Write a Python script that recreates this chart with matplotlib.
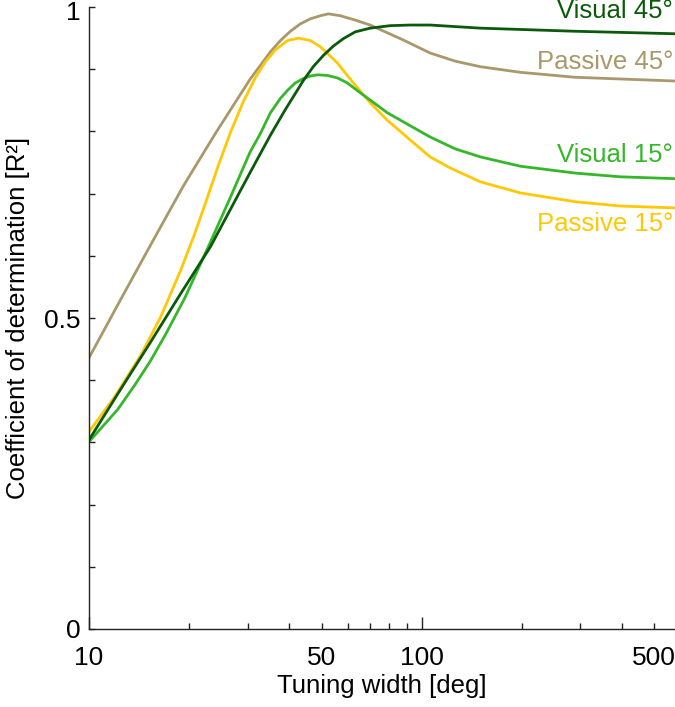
import matplotlib
matplotlib.use("Agg")
import matplotlib.pyplot as plt
from matplotlib.ticker import FixedLocator, NullFormatter
from matplotlib.transforms import ScaledTranslation

plt.rcParams['font.family'] = ['Liberation Sans', 'DejaVu Sans']

# Passive 45°
p45_x = [10, 12.4, 15.3, 19.2, 24.0, 30.5, 35.1, 37.6, 40.3, 43.2, 46.3, 49.6, 52.4, 56.9,
         63.1, 70.0, 77.7, 88.0, 106, 126, 150, 198, 289, 577]
p45_y = [0.436, 0.528, 0.617, 0.712, 0.797, 0.884, 0.928, 0.946, 0.961, 0.973, 0.981, 0.986, 0.989, 0.986,
         0.979, 0.971, 0.960, 0.947, 0.926, 0.913, 0.904, 0.895, 0.887, 0.881]

# Passive 15°
p15_x = [10, 12.0, 14.3, 16.4, 18.8, 20.6, 22.4, 24.5, 26.6, 29.1, 31.6, 33.9, 36.3, 39.5, 42.6,
         46.3, 49.6, 55.8, 58.9, 62.3, 70.0, 78.8, 92.4, 106, 122, 150, 198, 289, 395, 577]
p15_y = [0.317, 0.375, 0.440, 0.501, 0.575, 0.630, 0.685, 0.746, 0.798, 0.848, 0.886, 0.912, 0.931, 0.946, 0.950,
         0.946, 0.936, 0.910, 0.894, 0.878, 0.846, 0.818, 0.786, 0.759, 0.741, 0.719, 0.701, 0.687, 0.680, 0.677]

# Visual 15°
v15_x = [10, 12.2, 13.8, 15.3, 17.0, 19.4, 22.9, 26.6, 30.5, 32.7, 35.1, 37.6, 39.5, 41.7, 44.1,
         46.3, 48.6, 52.0, 55.8, 59.7, 65.4, 78.8, 92.4, 106, 126, 150, 198, 289, 395, 577]
v15_y = [0.301, 0.353, 0.394, 0.431, 0.474, 0.532, 0.616, 0.694, 0.767, 0.796, 0.830, 0.853, 0.866, 0.878, 0.885,
         0.889, 0.891, 0.890, 0.886, 0.878, 0.862, 0.830, 0.809, 0.791, 0.772, 0.759, 0.744, 0.733, 0.727, 0.724]

# Visual 45°
v45_x = [10, 12.4, 15.3, 18.8, 23.2, 30.5, 35.1, 38.9, 41.7, 44.1, 47.2, 50.6, 54.2, 58.1, 63.1,
         70.0, 80.4, 92.4, 106, 150, 289, 577]
v45_y = [0.304, 0.384, 0.461, 0.538, 0.615, 0.734, 0.794, 0.835, 0.861, 0.882, 0.904, 0.922, 0.937, 0.949, 0.960,
         0.966, 0.970, 0.971, 0.971, 0.966, 0.961, 0.957]

labels = ["Visual 45°", "Passive 45°", "Visual 15°", "Passive 15°"]
colors = ["#0b5a0b", "#a8986c", "#34b82a", "#ffc805"]
label_y = [0.982, 0.900, 0.751, 0.640]

x_ticks = [10, 50, 100, 500]
x_ticklabels = ["10", "50", "100", "500"]
x_minor = [20, 30, 40, 60, 70, 80, 90, 200, 300, 400]
y_ticks = [0, 0.5, 1]
y_ticklabels = ["0", "0.5", "1"]
y_minor = [0.1, 0.2, 0.3, 0.4, 0.6, 0.7, 0.8, 0.9]

fig = plt.figure(figsize=(6.75, 7.07), dpi=100)
ax = fig.add_axes([89 / 675, 1 - 629 / 707, (675 - 89) / 675, (629 - 7) / 707])

series = [(v45_x, v45_y), (p45_x, p45_y), (v15_x, v15_y), (p15_x, p15_y)]
order = [1, 3, 2, 0]
for i in order:
    xs, ys = series[i]
    ax.plot(xs, ys, color=colors[i], lw=2.0, solid_joinstyle='round', solid_capstyle='butt')

for lab, col, ly in zip(labels, colors, label_y):
    ax.text(0.997, ly, lab, color=col, fontsize=18.5, ha='right', va='baseline',
            transform=ax.get_yaxis_transform())

ax.set_xscale('log')
ax.set_xlim(10, 577)
ax.set_ylim(0, 1)

ax.xaxis.set_major_locator(FixedLocator(x_ticks))
ax.set_xticklabels(x_ticklabels)
ax.xaxis.set_minor_locator(FixedLocator(x_minor))
ax.xaxis.set_minor_formatter(NullFormatter())
ax.yaxis.set_major_locator(FixedLocator(y_ticks))
ax.set_yticklabels(y_ticklabels)
ax.yaxis.set_minor_locator(FixedLocator(y_minor))

for s in ['top', 'right']:
    ax.spines[s].set_visible(False)
for s in ['left', 'bottom']:
    ax.spines[s].set_linewidth(1.0)
    ax.spines[s].set_color('#222222')

ax.tick_params(axis='both', which='both', direction='in', width=1.0, color='#222222',
               labelsize=19)
ax.tick_params(axis='y', which='both', length=4.5, pad=6)
ax.tick_params(axis='x', which='both', length=4.5, pad=12)
# longer ticks at decades (10 and 100)
for t, v in zip(ax.xaxis.get_major_ticks(), x_ticks):
    if v in (10, 100):
        t.tick1line.set_markersize(9)

# keep the top "1" label inside the figure
top_lbl = ax.yaxis.get_major_ticks()[2].label1
top_lbl.set_transform(top_lbl.get_transform() + ScaledTranslation(0, -2.5 / 72, fig.dpi_scale_trans))

ax.set_xlabel("Tuning width [deg]", fontsize=18.5, labelpad=3)
ax.set_ylabel("Coefficient of determination [R²]", fontsize=18.5, labelpad=10)

fig.savefig("out.png", dpi=100)
